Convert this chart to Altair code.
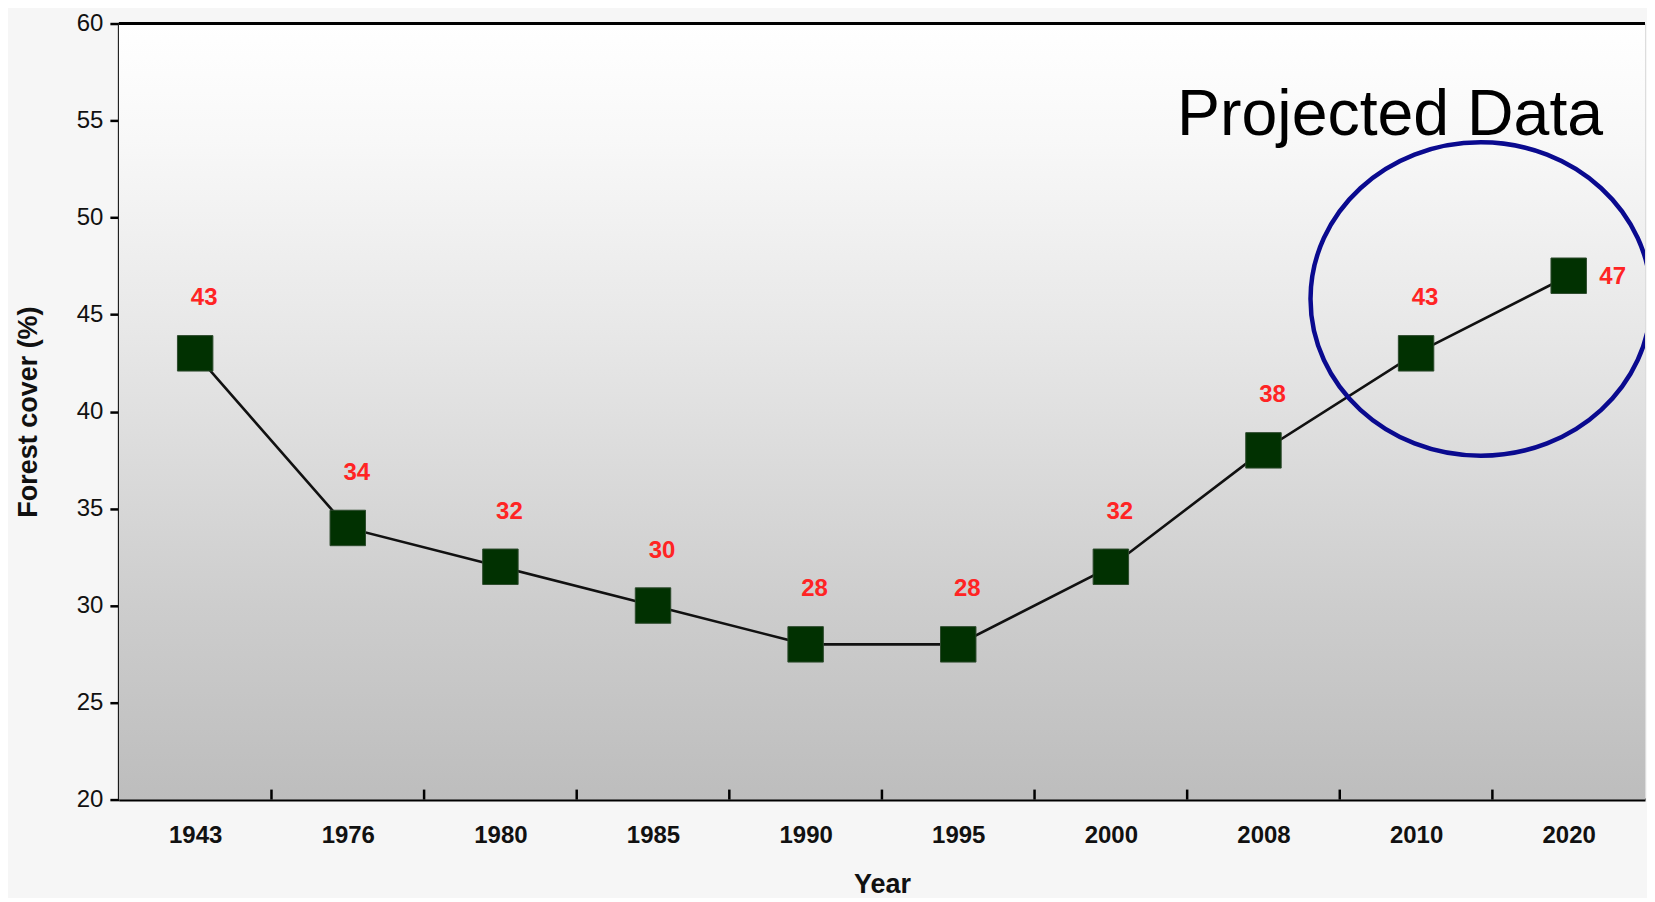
import altair as alt
import pandas as pd

# ---- data ----
years = ["1943", "1976", "1980", "1985", "1990", "1995", "2000", "2008", "2010", "2020"]
cover = [43, 34, 32, 30, 28, 28, 32, 38, 43, 47]
y_ticks = [20, 25, 30, 35, 40, 45, 50, 55, 60]
annot_text = ["Projected Data"]
annot_year = ["2010"]
annot_value = [54.26]
circle_year = ["2020"]
circle_value = [45.8]

W, H = 1528, 777
FONT = "Liberation Sans"

df = pd.DataFrame({"Year": years, "Cover": cover})
df_main = df.iloc[:-1]
df_last = df.iloc[-1:]
df_ticks = df.iloc[:-1]
df_one = pd.DataFrame({"k": [0]})
df_annot = pd.DataFrame({"Year": annot_year, "Cover": annot_value, "t": annot_text})
df_circle = pd.DataFrame({"Year": circle_year, "Cover": circle_value})

xscale = alt.Scale(type="point", domain=years, padding=0.5)
yscale = alt.Scale(domain=[20, 60], nice=False, zero=False)

x_enc = alt.X(
    "Year:N",
    scale=xscale,
    sort=years,
    axis=alt.Axis(
        title="Year",
        ticks=False,
        labelFont=FONT,
        labelFontSize=24,
        labelFontWeight="bold",
        labelColor="#111111",
        labelPadding=36,
        labelAngle=0,
        labelAlign="center",
        titleFont=FONT,
        titleFontSize=27,
        titleFontWeight="bold",
        titleColor="#111111",
        titlePadding=24,
        domainColor="#000000",
        domainWidth=3,
        grid=False,
    ),
)
y_enc = alt.Y(
    "Cover:Q",
    scale=yscale,
    axis=alt.Axis(
        title="Forest cover (%)",
        values=y_ticks,
        labelFont=FONT,
        labelFontSize=24,
        labelColor="#111111",
        labelPadding=7,
        tickSize=9,
        tickWidth=2.5,
        tickColor="#000000",
        titleFont=FONT,
        titleFontSize=27,
        titleFontWeight="bold",
        titleColor="#111111",
        titlePadding=34,
        domainColor="#000000",
        domainWidth=3,
        grid=False,
    ),
)

gradient = alt.Chart(df_one).mark_rect(
    color=alt.LinearGradient(
        gradient="linear",
        stops=[
            alt.GradientStop(color="#ffffff", offset=0),
            alt.GradientStop(color="#f8f8f8", offset=0.15),
            alt.GradientStop(color="#e6e6e6", offset=0.42),
            alt.GradientStop(color="#cdcdcd", offset=0.75),
            alt.GradientStop(color="#bdbdbd", offset=1),
        ],
        x1=0, x2=0, y1=0, y2=1,
    )
).encode(x=alt.value(0), x2=alt.value(W), y=alt.value(0), y2=alt.value(H))

top_border = alt.Chart(df_one).mark_rule(color="#000000", strokeWidth=3).encode(
    x=alt.value(0), x2=alt.value(W), y=alt.value(0)
)

ticks = alt.Chart(df_ticks).mark_rule(
    color="#000000", strokeWidth=2.5, xOffset=W / 20
).encode(x=alt.X("Year:N", scale=xscale, sort=years), y=alt.value(H), y2=alt.value(H - 10))

line = alt.Chart(df).mark_line(color="#111111", strokeWidth=2.6).encode(x=x_enc, y=y_enc)

squares = alt.Chart(df).mark_square(
    size=1260, color="#013101", opacity=1, stroke="#2d4a2d", strokeWidth=1
).encode(x=alt.X("Year:N", scale=xscale, sort=years), y=alt.Y("Cover:Q", scale=yscale))

labels = alt.Chart(df_main).mark_text(
    font=FONT, fontSize=24, fontWeight="bold", color="#ff2424",
    dx=9, dy=-55, align="center", baseline="middle",
).encode(x=alt.X("Year:N", scale=xscale, sort=years), y=alt.Y("Cover:Q", scale=yscale), text="Cover:Q")

label_last = alt.Chart(df_last).mark_text(
    font=FONT, fontSize=24, fontWeight="bold", color="#ff2424",
    dx=44, dy=1, align="center", baseline="middle",
).encode(x=alt.X("Year:N", scale=xscale, sort=years), y=alt.Y("Cover:Q", scale=yscale), text="Cover:Q")

annot = alt.Chart(df_annot).mark_text(
    font=FONT, fontSize=64.5, color="#000000", align="center", baseline="alphabetic", dx=-26,
).encode(x=alt.X("Year:N", scale=xscale, sort=years), y=alt.Y("Cover:Q", scale=yscale), text="t:N")

circle = alt.Chart(df_circle).mark_point(
    shape="M-1,0A1,0.92,0,1,1,1,0A1,0.92,0,1,1,-1,0Z",
    size=341 * 341,
    filled=False,
    stroke="#0a0a8f",
    strokeWidth=4.5,
    opacity=1,
    xOffset=-88,
    clip=True,
).encode(x=alt.X("Year:N", scale=xscale, sort=years), y=alt.Y("Cover:Q", scale=yscale))

chart = (
    alt.layer(gradient, top_border, ticks, line, squares, labels, label_last, annot, circle)
    .properties(width=W, height=H, padding={"left": 6, "top": 3, "right": 0, "bottom": 0})
    .configure_view(stroke="#666666", strokeWidth=1.5)
    .configure(background="#f6f6f6")
)

chart.save("out.html", embed_options={"renderer": "svg", "actions": False})
